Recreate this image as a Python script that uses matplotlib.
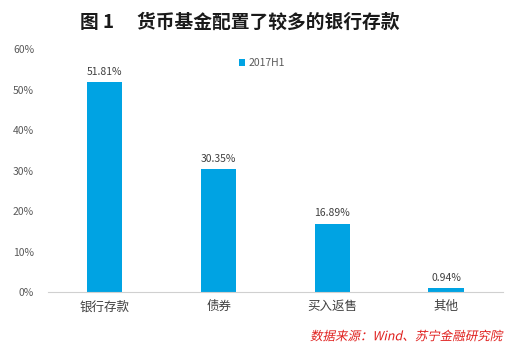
import matplotlib
matplotlib.use("Agg")
import matplotlib.pyplot as plt
from matplotlib.ticker import PercentFormatter
from matplotlib.patheffects import AbstractPathEffect
from matplotlib.transforms import Affine2D

plt.rcParams['font.family'] = ['Noto Sans CJK SC', 'DejaVu Sans']

categories = ["银行存款", "债券", "买入返售", "其他"]
values = [51.81, 30.35, 16.89, 0.94]
series_name = "2017H1"
yticks = [0, 10, 20, 30, 40, 50, 60]


class Skew(AbstractPathEffect):
    def __init__(self, deg=12):
        super().__init__()
        self.deg = deg

    def draw_path(self, renderer, gc, tpath, affine, rgbFace=None):
        renderer.draw_path(gc, tpath, Affine2D().skew_deg(self.deg, 0) + affine, rgbFace)


fig = plt.figure(figsize=(5.1, 3.49), dpi=100)
ax = fig.add_axes([0.094, 0.1633, 0.892, 0.6963])
color = '#00A3E3'
x = range(len(categories))
bars = ax.bar(x, values, width=0.31, color=color, label=series_name, zorder=2)
ax.set_xlim(-0.5, len(categories) - 0.5)
ax.set_ylim(0, 60)
ax.set_yticks(yticks)
ax.yaxis.set_major_formatter(PercentFormatter(decimals=0))
ax.set_xticks(list(x))
ax.set_xticklabels(categories, fontsize=9, color='#404040')
for lab in ax.get_yticklabels():
    lab.set_fontsize(7.5)
    lab.set_color('#595959')
ax.tick_params(axis='both', length=0)
ax.tick_params(axis='y', pad=10)
ax.tick_params(axis='x', pad=6)
for s in ['top', 'right', 'left']:
    ax.spines[s].set_visible(False)
ax.spines['bottom'].set_color('#D0D0D0')
for b, v in zip(bars, values):
    ax.annotate(f"{v:.2f}%", (b.get_x() + b.get_width() / 2, v), xytext=(0, 4),
                textcoords='offset points', ha='center', va='bottom', fontsize=7.5, color='#404040')
leg = ax.legend(loc='upper center', bbox_to_anchor=(0.47, 1.0), frameon=False, fontsize=7.5,
                handlelength=0.6, handleheight=0.6, handletextpad=0.3)
for t in leg.get_texts():
    t.set_color('#595959')
fig.text(0.47, 0.935, "图 1　 货币基金配置了较多的银行存款", ha='center', va='center', fontsize=13.5,
         fontweight='bold', color='#1a1a1a')
fig.text(0.985, 0.035, "数据来源：Wind、苏宁金融研究院", ha='right', va='center', fontsize=9,
         color='#E0201E', path_effects=[Skew(12)])
fig.savefig("out.png", dpi=100)
